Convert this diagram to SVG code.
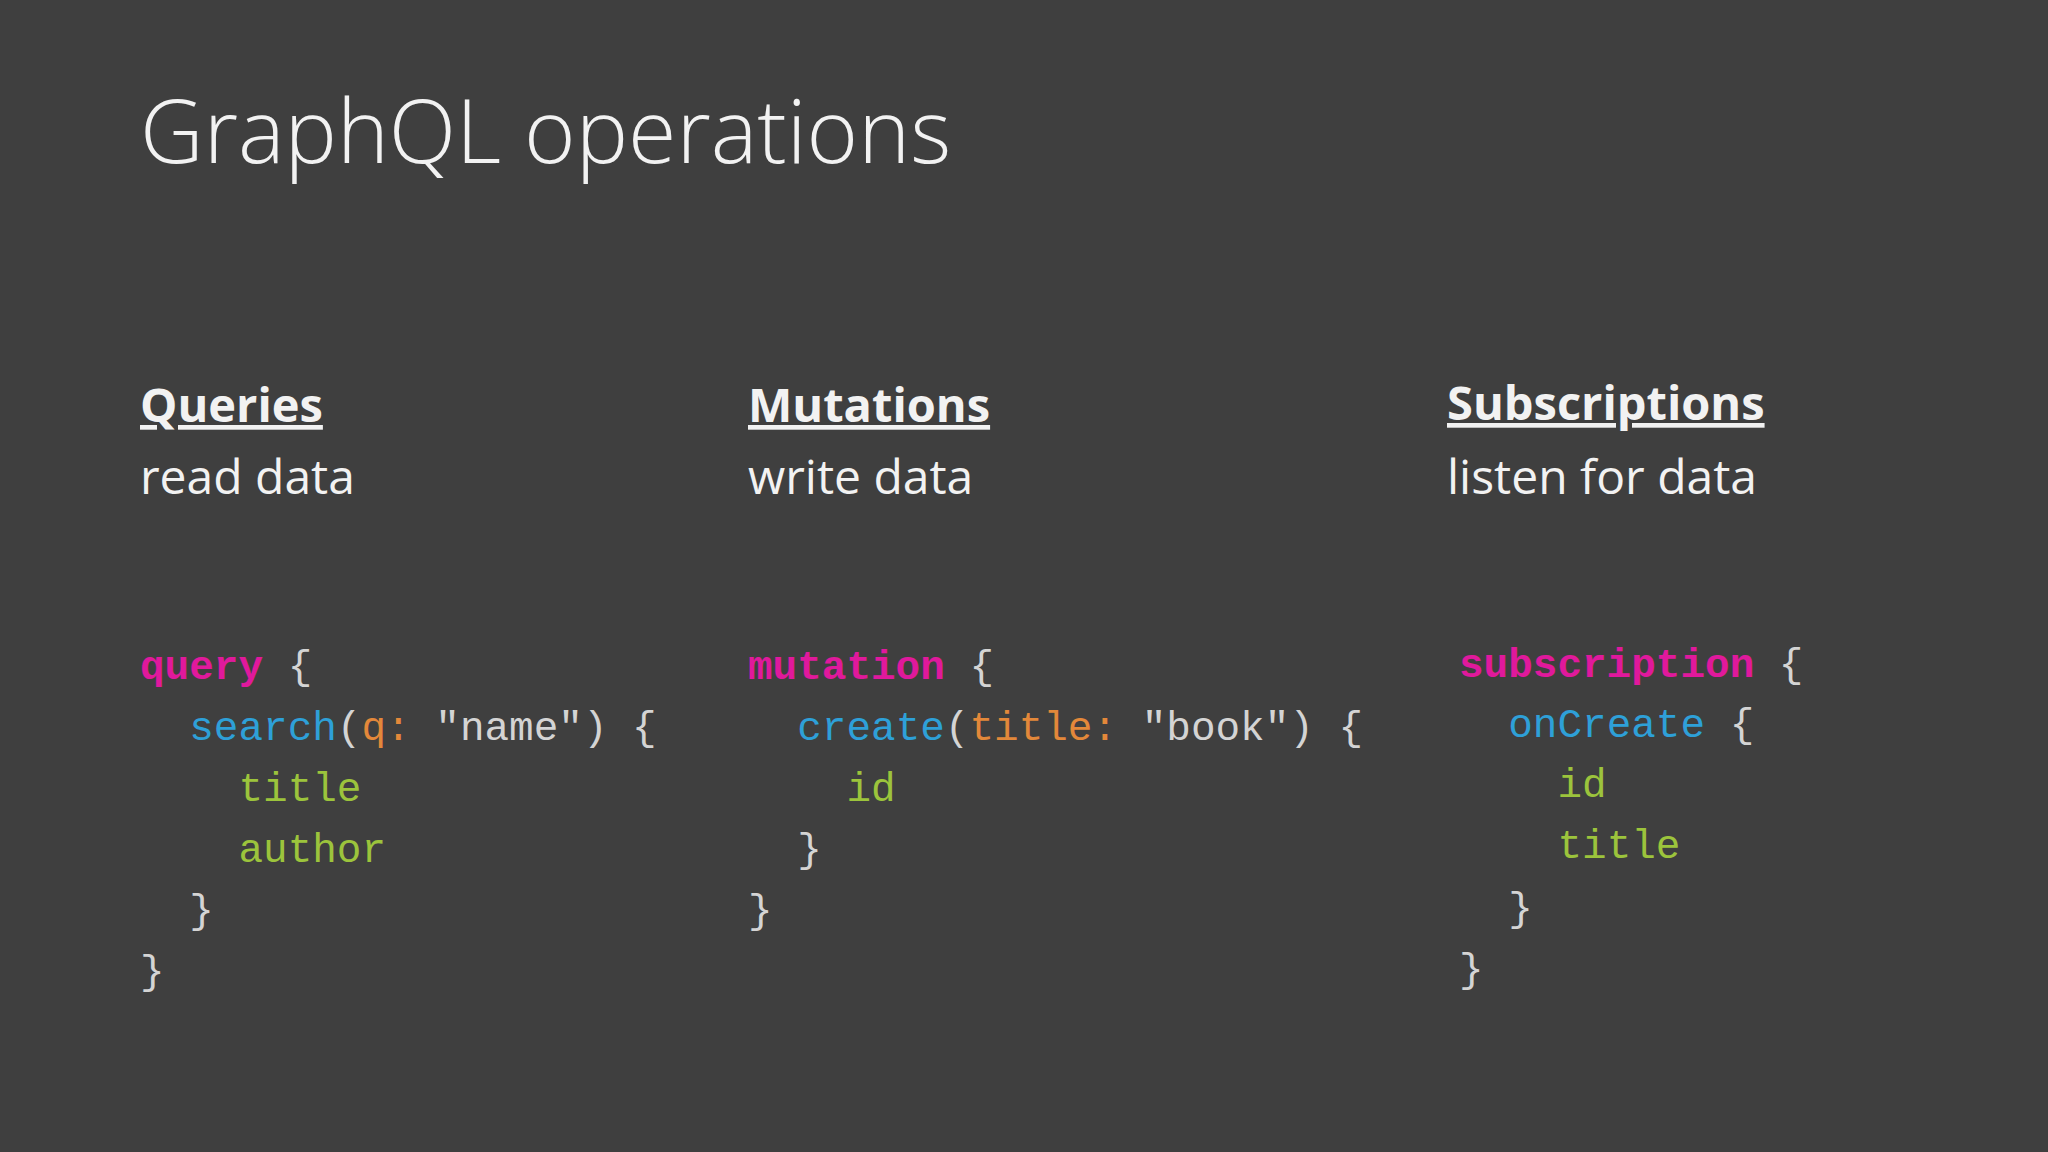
<svg xmlns="http://www.w3.org/2000/svg" width="2048" height="1152" viewBox="0 0 2048 1152">
<style>
.t{font-family:"Open Sans","Noto Sans",sans-serif;fill:#f2f2f2;font-weight:300}
.h{font-family:"Open Sans","Noto Sans",sans-serif;font-weight:bold;font-size:47px;fill:#f2f2f2;text-decoration:underline}
.s{font-family:"Open Sans","Noto Sans",sans-serif;font-size:48px;fill:#f2f2f2}
.c{font-family:"Liberation Mono","DejaVu Sans Mono",monospace;font-size:41px;fill:#d4d4d4;white-space:pre}
.k{fill:#e0199c;font-weight:bold}.f{fill:#2ea0d8}.a{fill:#e3883a}.g{fill:#9cc43c}
</style>
<rect width="2048" height="1152" fill="#3f3f3f"/>
<text class="t" x="140" y="163" font-size="88">GraphQL operations</text>
<g id="queries">
<text class="h" x="140" y="422">Queries</text>
<text class="s" x="140" y="494">read data</text>
<text class="c" x="140" y="679" xml:space="preserve"><tspan class="k">query</tspan> {</text>
<text class="c" x="140" y="740" xml:space="preserve">  <tspan class="f">search</tspan>(<tspan class="a">q:</tspan> "name") {</text>
<text class="c" x="140" y="801" xml:space="preserve">    <tspan class="g">title</tspan></text>
<text class="c" x="140" y="862" xml:space="preserve">    <tspan class="g">author</tspan></text>
<text class="c" x="140" y="923" xml:space="preserve">  }</text>
<text class="c" x="140" y="984" xml:space="preserve">}</text>
</g>
<g id="mutations">
<text class="h" x="748" y="422">Mutations</text>
<text class="s" x="748" y="494">write data</text>
<text class="c" x="748" y="679" xml:space="preserve"><tspan class="k">mutation</tspan> {</text>
<text class="c" x="748" y="740" xml:space="preserve">  <tspan class="f">create</tspan>(<tspan class="a">title:</tspan> "book") {</text>
<text class="c" x="748" y="801" xml:space="preserve">    <tspan class="g">id</tspan></text>
<text class="c" x="748" y="862" xml:space="preserve">  }</text>
<text class="c" x="748" y="923" xml:space="preserve">}</text>
</g>
<g id="subscriptions">
<text class="h" x="1447" y="420">Subscriptions</text>
<text class="s" x="1447" y="494">listen for data</text>
<text class="c" x="1459" y="677" xml:space="preserve"><tspan class="k">subscription</tspan> {</text>
<text class="c" x="1459" y="737" xml:space="preserve">  <tspan class="f">onCreate</tspan> {</text>
<text class="c" x="1459" y="797" xml:space="preserve">    <tspan class="g">id</tspan></text>
<text class="c" x="1459" y="858" xml:space="preserve">    <tspan class="g">title</tspan></text>
<text class="c" x="1459" y="921" xml:space="preserve">  }</text>
<text class="c" x="1459" y="982" xml:space="preserve">}</text>
</g>
<g id="connectors"/>
</svg>
